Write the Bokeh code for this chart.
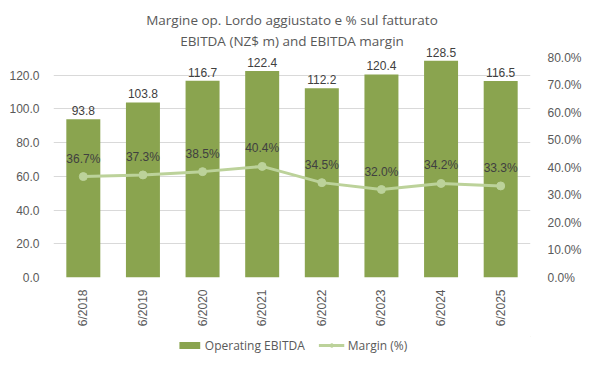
import math
from bokeh.plotting import figure
from bokeh.layouts import column
from bokeh.models import (ColumnDataSource, LinearAxis, Range1d, FixedTicker, Label,
                          NumeralTickFormatter, Legend, LegendItem, FactorRange)
from bokeh.core.properties import value
from bokeh.embed import file_html
from bokeh.resources import INLINE

years = ["6/2018", "6/2019", "6/2020", "6/2021", "6/2022", "6/2023", "6/2024", "6/2025"]
ebitda = [93.8, 103.8, 116.7, 122.4, 112.2, 120.4, 128.5, 116.5]
margin = [0.367, 0.373, 0.385, 0.404, 0.345, 0.320, 0.342, 0.333]
ebitda_labels = ["93.8", "103.8", "116.7", "122.4", "112.2", "120.4", "128.5", "116.5"]
margin_labels = ["36.7%", "37.3%", "38.5%", "40.4%", "34.5%", "32.0%", "34.2%", "33.3%"]
left_ticks = [0, 20, 40, 60, 80, 100, 120]
right_ticks = [0.0, 0.1, 0.2, 0.3, 0.4, 0.5, 0.6, 0.7, 0.8]

FONT = "Liberation Sans"
TFONT = "Open Sans"
GREY = "#595959"
BAR = "#8aa44f"
LINE = "#bcd29a"

src = ColumnDataSource(dict(years=years, ebitda=ebitda, margin=margin,
                            elab=ebitda_labels, mlab=margin_labels))

p = figure(width=584, height=336, x_range=FactorRange(*years, range_padding=0),
           y_range=Range1d(0, 147.6), output_backend="svg", toolbar_location=None,
           min_border_left=53, min_border_right=46, min_border_top=28, min_border_bottom=59)
p.extra_y_ranges = {"pct": Range1d(0, 0.9055)}

p.title.text = "Margine op. Lordo aggiustato e % sul fatturato"
p.title.align = "center"
p.title.text_font = TFONT
p.title.text_font_size = "13.5px"
p.title.text_font_style = "normal"
p.title.text_color = GREY
p.title.standoff = 0
p.add_layout(Label(x=4, y=140.4, text="EBITDA (NZ$ m) and EBITDA margin",
                   text_align="center", text_baseline="middle", text_font=TFONT,
                   text_font_size="13.5px", text_color=GREY))

bars = p.vbar(x="years", top="ebitda", width=0.57, source=src, color=BAR, line_color=None)
p.text(x="years", y="ebitda", text="elab", source=src, text_align="center",
       text_baseline="bottom", y_offset=-4, text_font=value(FONT), text_font_size="12px",
       text_color="#404040")

ln = p.line(x="years", y="margin", source=src, y_range_name="pct", color=LINE, line_width=3)
pts = p.scatter(x="years", y="margin", source=src, y_range_name="pct", size=8,
                color=LINE, line_color=LINE)
p.text(x="years", y="margin", text="mlab", source=src, y_range_name="pct",
       text_align="center", text_baseline="middle", y_offset=-18,
       text_font=value(FONT), text_font_size="12px", text_color="#404040")

p.yaxis.ticker = FixedTicker(ticks=left_ticks)
p.yaxis.formatter = NumeralTickFormatter(format="0.0")
right = LinearAxis(y_range_name="pct", ticker=FixedTicker(ticks=right_ticks),
                   formatter=NumeralTickFormatter(format="0.0%"))
p.add_layout(right, "right")

for ax in [p.yaxis[0], right, p.xaxis[0]]:
    ax.axis_line_color = None
    ax.major_tick_line_color = None
    ax.minor_tick_line_color = None
    ax.major_label_text_font = FONT
    ax.major_label_text_font_size = "12px"
    ax.major_label_text_color = GREY
p.yaxis[0].major_label_standoff = 8
right.major_label_standoff = 11
p.xaxis.major_label_orientation = math.pi / 2
p.xaxis.major_label_standoff = 6

p.xgrid.grid_line_color = None
p.ygrid.grid_line_color = "#d9d9d9"
p.outline_line_color = None
p.border_fill_color = "white"

# legend strip below the chart (proxy renderers lie outside its visible ranges)
lg = figure(width=584, height=17, x_range=Range1d(0, 1), y_range=Range1d(0, 1),
            output_backend="svg", toolbar_location=None, x_axis_location=None,
            y_axis_location=None, min_border_left=20, min_border_right=0,
            min_border_top=0, min_border_bottom=0)
lg.grid.visible = False
lg.outline_line_color = None
proxy = ColumnDataSource(dict(x=[5], y=[5]))
lbar = lg.vbar(x="x", top="y", bottom=4, width=0.5, source=proxy, color=BAR, line_color=None)
lline = lg.line(x="x", y="y", source=proxy, color=LINE, line_width=3)
lpts = lg.scatter(x="x", y="y", source=proxy, size=8, color=LINE, line_color=LINE)
legend = Legend(items=[LegendItem(label="Operating EBITDA", renderers=[lbar]),
                       LegendItem(label="Margin (%)", renderers=[lline, lpts])],
                orientation="horizontal", location="center",
                label_text_font=TFONT, label_text_font_size="12px", label_text_color=GREY,
                border_line_color=None, background_fill_alpha=0, glyph_width=26,
                glyph_height=9, spacing=14, label_standoff=3, padding=0, margin=0)
lg.add_layout(legend, "center")

layout = column(p, lg, spacing=0)
open("out.html", "w").write(file_html(layout, INLINE))
